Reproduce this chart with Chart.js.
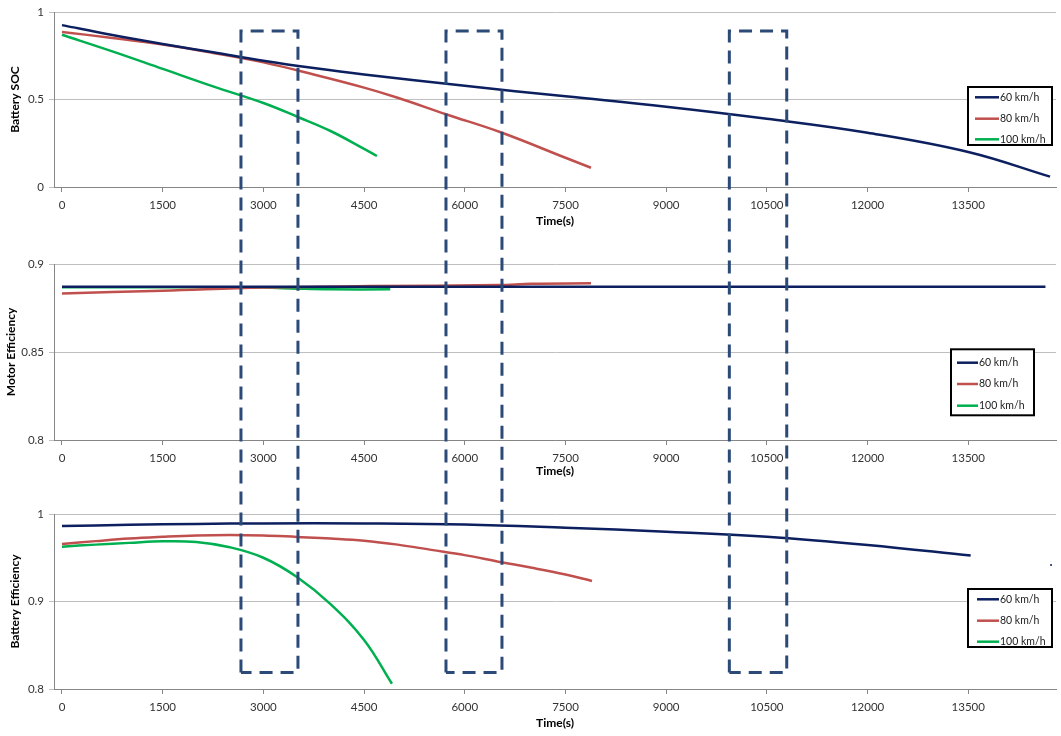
<!DOCTYPE html>
<html>
<head>
<meta charset="utf-8">
<script src="https://cdn.jsdelivr.net/npm/chart.js@4.4.1/dist/chart.umd.min.js"></script>
<style>
  html, body { margin: 0; padding: 0; background: #fff; }
  #wrap { position: relative; width: 1061px; height: 736px; }
  #wrap canvas { position: absolute; left: 0; }
  #socChart { top: 0; }
  #motorChart { top: 240px; }
  #battChart { top: 490px; }
  #overlay { top: 0; pointer-events: none; }
</style>
</head>
<body>
<div id="wrap">
  <canvas id="socChart" width="1061" height="230"></canvas>
  <canvas id="motorChart" width="1061" height="240"></canvas>
  <canvas id="battChart" width="1061" height="246"></canvas>
  <canvas id="overlay" width="1061" height="736"></canvas>
</div>
<script>
const seriesNames = ['60 km/h', '80 km/h', '100 km/h'];
const seriesColors = ['#0c1f5e', '#c0504d', '#00b050'];
const xTicks = [0, 1500, 3000, 4500, 6000, 7500, 9000, 10500, 12000, 13500];
const xMin = -119, xMax = 14807;

// Battery SOC
const socTime60 = [0, 750, 1500, 2250, 3000, 3750, 4500, 6000, 7500, 9000, 10500, 12000, 13500, 14718];
const soc60 = [0.925, 0.868, 0.817, 0.77, 0.722, 0.68, 0.643, 0.578, 0.518, 0.459, 0.39, 0.31, 0.2, 0.059];
const socTime80 = [0, 750, 1500, 2250, 3000, 3750, 4500, 5000, 5720, 6554, 7500, 7880];
const soc80 = [0.886, 0.852, 0.814, 0.766, 0.712, 0.643, 0.568, 0.51, 0.416, 0.31, 0.167, 0.11];
const socTime100 = [0, 750, 1500, 2250, 3000, 3515, 4000, 4500, 4692];
const soc100 = [0.87, 0.775, 0.675, 0.575, 0.48, 0.40, 0.32, 0.218, 0.177];
const socTicks = [0, 0.5, 1];

// Motor efficiency
const motTime60 = [0, 3000, 6000, 9000, 12000, 14650];
const mot60 = [0.8871, 0.8871, 0.8871, 0.8871, 0.8871, 0.8871];
const motTime80 = [0, 1500, 3000, 4600, 6500, 7000, 7880];
const mot80 = [0.8833, 0.8848, 0.8866, 0.8875, 0.888, 0.8888, 0.889];
const motTime100 = [0, 2000, 3000, 3500, 4000, 4890];
const mot100 = [0.8868, 0.8868, 0.8866, 0.886, 0.8856, 0.8856];
const motorTicks = [0.8, 0.85, 0.9];

// Battery efficiency
const beTime60 = [0, 1000, 2000, 3000, 4500, 6000, 7500, 9000, 10500, 12000, 13536];
const be60 = [0.9863, 0.9876, 0.9887, 0.9892, 0.9892, 0.988, 0.9843, 0.9798, 0.974, 0.9646, 0.9525];
const beTime80 = [0, 500, 1000, 1500, 2000, 2500, 3000, 3500, 4000, 4500, 5000, 5500, 6000, 6500, 7000, 7500, 7895];
const be80 = [0.9657, 0.969, 0.972, 0.974, 0.9755, 0.976, 0.9755, 0.9738, 0.972, 0.9695, 0.965, 0.959, 0.953, 0.9455, 0.9385, 0.9308, 0.9235];
const beTime100 = [0, 500, 1000, 1500, 2000, 2500, 3000, 3500, 4000, 4500, 4915];
const be100 = [0.9627, 0.965, 0.967, 0.9688, 0.968, 0.962, 0.95, 0.928, 0.897, 0.856, 0.806];
const beStrayTime = [14733];
const beStray = [0.9417];
const battTicks = [0.8, 0.9, 1];

// highlighted time windows (dashed boxes), from SOC 0.891 down to battery eff 0.819
const highlightSpans = [[2666, 3515], [5720, 6554], [9941, 10796]];
const highlightTop = 0.891;
const highlightBottom = 0.819;

const FONT = 'Lato, "Liberation Sans", sans-serif';

function pts(xs, ys) {
  return xs.map((x, i) => ({ x: x, y: ys[i] }));
}

function lineSet(i, xs, ys) {
  return {
    label: seriesNames[i],
    data: pts(xs, ys),
    borderColor: seriesColors[i],
    backgroundColor: seriesColors[i],
    borderWidth: 2.5,
    pointRadius: 0,
    tension: 0.4,
    fill: false
  };
}

const boxLegend = {
  id: 'boxLegend',
  afterDraw(chart, args, opts) {
    const ctx = chart.ctx;
    ctx.save();
    ctx.fillStyle = '#fff';
    ctx.fillRect(opts.x, opts.y, opts.w, opts.h);
    ctx.strokeStyle = '#000';
    ctx.lineWidth = 2;
    ctx.strokeRect(opts.x, opts.y, opts.w, opts.h);
    ctx.font = '10.5px ' + FONT;
    ctx.textBaseline = 'middle';
    ctx.fillStyle = '#222';
    chart.data.datasets.slice(0, 3).forEach((ds, i) => {
      const y = opts.y + opts.rows[i];
      ctx.strokeStyle = ds.borderColor;
      ctx.lineWidth = 2.5;
      ctx.beginPath();
      ctx.moveTo(opts.lineX0, y);
      ctx.lineTo(opts.lineX1, y);
      ctx.stroke();
      ctx.fillText(ds.label, opts.lineX1 + 1, y);
    });
    ctx.restore();
  }
};

function makeChart(id, datasets, yTicks, yTitle, cfg) {
  return new Chart(document.getElementById(id), {
    type: 'line',
    data: { datasets: datasets },
    plugins: [boxLegend],
    options: {
      responsive: false,
      animation: false,
      layout: { padding: { top: cfg.padTop, right: 5, left: 0, bottom: 0 } },
      plugins: {
        legend: { display: false },
        tooltip: { enabled: false },
        boxLegend: cfg.legend
      },
      scales: {
        x: {
          type: 'linear',
          min: xMin,
          max: xMax,
          afterBuildTicks: s => { s.ticks = xTicks.map(v => ({ value: v })); },
          afterFit: s => { s.height = cfg.xHeight; },
          border: { color: '#868686' },
          grid: { drawOnChartArea: false, tickLength: 5, color: '#868686' },
          ticks: { padding: 6, color: '#333', font: { family: FONT, size: 11.5 }, maxRotation: 0, callback: v => String(v) },
          title: { display: true, text: 'Time(s)', color: '#000', font: { family: FONT, size: 12, weight: 'bold' }, padding: { top: 0, bottom: cfg.xTitlePad } }
        },
        y: {
          min: yTicks[0],
          max: yTicks[yTicks.length - 1],
          afterBuildTicks: s => { s.ticks = yTicks.map(v => ({ value: v })); },
          afterFit: s => { s.width = 54; },
          border: { color: '#868686' },
          grid: { color: '#bfbfbf', tickLength: 5 },
          ticks: { padding: 5, color: '#333', font: { family: FONT, size: 11.5 }, callback: v => String(+v.toFixed(3)) },
          title: { display: true, text: yTitle, color: '#000', font: { family: FONT, size: 12, weight: 'bold' }, padding: { top: cfg.yTitlePad, bottom: 0 } }
        }
      }
    }
  });
}

const socChart = makeChart('socChart', [
  lineSet(0, socTime60, soc60),
  lineSet(1, socTime80, soc80),
  lineSet(2, socTime100, soc100)
], socTicks, 'Battery SOC', {
  padTop: 12, xHeight: 43, xTitlePad: 1.5, yTitlePad: 8,
  legend: { x: 968, y: 87, w: 84, h: 58, rows: [10.3, 31.7, 52.3], lineX0: 975, lineX1: 999 }
});

const motorChart = makeChart('motorChart', [
  lineSet(0, motTime60, mot60),
  lineSet(1, motTime80, mot80),
  lineSet(2, motTime100, mot100)
], motorTicks, 'Motor Efficiency', {
  padTop: 24, xHeight: 40, xTitlePad: 2, yTitlePad: 4,
  legend: { x: 951, y: 109.3, w: 83, h: 66, rows: [13.4, 34.7, 56.4], lineX0: 957, lineX1: 978 }
});

const battChart = makeChart('battChart', [
  lineSet(0, beTime60, be60),
  lineSet(1, beTime80, be80),
  lineSet(2, beTime100, be100),
  { label: 'stray', data: pts(beStrayTime, beStray), showLine: false, pointRadius: 1, borderWidth: 0, backgroundColor: seriesColors[0] }
], battTicks, 'Battery Efficiency', {
  padTop: 24, xHeight: 47, xTitlePad: 5.5, yTitlePad: 8,
  legend: { x: 968, y: 99, w: 84, h: 58, rows: [10.3, 31.7, 52.7], lineX0: 977, lineX1: 999 }
});

// dashed boxes spanning all three panels
const ov = document.getElementById('overlay').getContext('2d');
ov.strokeStyle = '#2c4a78';
ov.lineWidth = 3;
ov.setLineDash([13, 8]);
const yTop = socChart.scales.y.getPixelForValue(highlightTop) + socChart.canvas.offsetTop;
const yBot = battChart.scales.y.getPixelForValue(highlightBottom) + battChart.canvas.offsetTop;
highlightSpans.forEach(([a, b]) => {
  const x0 = socChart.scales.x.getPixelForValue(a);
  const x1 = socChart.scales.x.getPixelForValue(b);
  ov.beginPath();
  ov.moveTo(x0, yBot);
  ov.lineTo(x0, yTop);
  ov.lineTo(x1, yTop);
  ov.lineTo(x1, yBot);
  ov.lineTo(x0, yBot);
  ov.stroke();
});
</script>
</body>
</html>
